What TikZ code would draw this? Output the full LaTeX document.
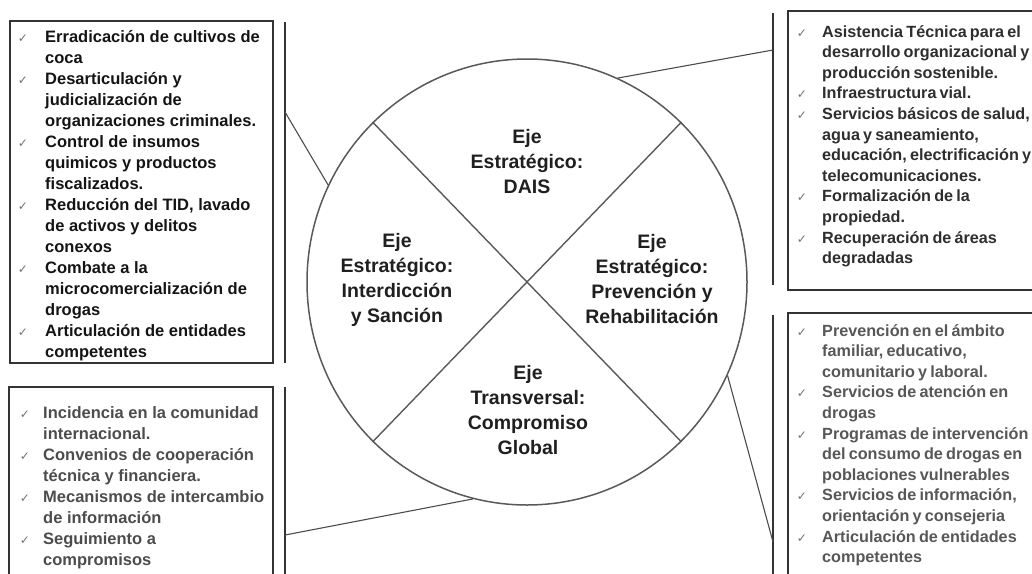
\documentclass[tikz,border=0pt]{standalone}
\usepackage{fontspec}
\setmainfont{Liberation Sans}
\newfontfamily\dejavu{DejaVu Sans}
\usetikzlibrary{shapes.geometric}
\newcommand\rtfont{\fontsize{16.2}{20}\selectfont\bfseries\spaceskip 3.2pt\relax}
\newcommand\boxlines[7]{\foreach \lin [count=\i] in {#7} {\node[#6, text=#5] (#1\i) at (#2, {#3+(\i-1)*#4}) {\lin};}}
\newcommand\boxchecks[5]{\foreach \i in {#5} {\node[ck] (#1c\i) at (#2, {#3+(\i-1)*#4}) {✓};}}
\begin{document}
\begin{tikzpicture}[x=1pt,y=-1pt,
 boxst/.style={draw=black!80, line width=1.6pt, inner sep=0pt, outer sep=0pt, anchor=north west},
 vline/.style={draw=black!80, line width=1.6pt},
 conn/.style={draw=black!70, line width=1.1pt},
 circst/.style={ellipse, draw=black!65, line width=1.5pt, minimum width=440pt, minimum height=446pt, inner sep=0pt},
 cross/.style={draw=black!65, line width=1.4pt},
 ctext/.style={font=\fontsize{19.5}{25}\selectfont\bfseries, align=center, text=black!88, inner sep=0pt},
 itx/.style={font=\fontsize{16.5}{20}\selectfont\bfseries, inner sep=0pt, anchor=base west},
 itxr/.style={font=\rtfont, inner sep=0pt, anchor=base west},
 ck/.style={font=\dejavu\fontsize{12}{12}\selectfont, text=black!55, inner sep=0pt, anchor=base}]
\useasboundingbox (0,0) rectangle (1032,573);
\clip (0,0) rectangle (1032,573);

% circle and cross
\node[circst] (C) at (527,282) {};
\draw[cross] (C.134) -- (C.-46);
\draw[cross] (C.46) -- (C.-134);
\node[ctext] (dais) at (527,162) {Eje\\Estratégico:\\DAIS};
\node[ctext] (inter) at (397,280) {Eje\\Estratégico:\\Interdicción\\y Sanción};
\node[ctext] (prev) at (652,279) {Eje\\Estratégico:\\Prevención y\\Rehabilitación};
\node[ctext] (glob) at (528,410) {Eje\\Transversal:\\Compromiso\\Global};

% boxes
\node[boxst, minimum width=263pt, minimum height=342pt] (bTL) at (10,21) {};
\node[boxst, minimum width=264pt, minimum height=260pt] (bBL) at (9,387) {};
\node[boxst, minimum width=270pt, minimum height=279pt] (bTR) at (788,11) {};
\node[boxst, minimum width=270pt, minimum height=300pt] (bBR) at (788,313) {};

% bracket lines
\coordinate (vTLa) at (285,22);  \coordinate (vTLb) at (285,363);
\coordinate (vBLa) at (285,387); \coordinate (vBLb) at (285,590);
\coordinate (vTRa) at (773,13);  \coordinate (vTRb) at (773,285);
\coordinate (vBRa) at (773,315); \coordinate (vBRb) at (773,590);
\draw[vline] (vTLa) -- (vTLb);
\draw[vline] (vBLa) -- (vBLb);
\draw[vline] (vTRa) -- (vTRb);
\draw[vline] (vBRa) -- (vBRb);

% connectors
\coordinate (kTL) at (285,112);
\coordinate (kBL) at (285,535);
\coordinate (kTR) at (773,50);
\coordinate (kBR) at (773,542);
\draw[conn] (kTL) -- (C.154);
\draw[conn] (kBL) -- (C.-104.5);
\draw[conn] (kTR) -- (C.66);
\draw[conn] (kBR) -- (C.-25.4);

% top-left list
\boxlines{tl}{45}{42}{21}{black!92}{itx}{{Erradicación de cultivos de},{coca},{Desarticulación y},{judicialización de},{organizaciones criminales.},{Control de insumos},{quimicos y productos},{fiscalizados.},{Reducción del TID, lavado},{de activos y delitos},{conexos},{Combate a la},{microcomercialización de},{drogas},{Articulación de entidades},{competentes}}
\boxchecks{tl}{23}{42}{21}{1,3,6,9,12,15}

% bottom-left list
\boxlines{bl}{43}{418}{21}{black!70}{itx}{{Incidencia en la comunidad},{internacional.},{Convenios de cooperación},{técnica y financiera.},{Mecanismos de intercambio},{de información},{Seguimiento a},{compromisos}}
\boxchecks{bl}{25}{418}{21}{1,3,5,7}

% top-right list
\boxlines{tr}{822}{37}{20.6}{black!82}{itxr}{{Asistencia Técnica para el},{desarrollo organizacional y},{producción sostenible.},{Infraestructura vial.},{Servicios básicos de salud,},{agua y saneamiento,},{educación, electrificación y},{telecomunicaciones.},{Formalización de la},{propiedad.},{Recuperación de áreas},{degradadas}}
\boxchecks{tr}{802}{37}{20.6}{1,4,5,9,11}

% bottom-right list
\boxlines{br}{822}{336}{20.6}{black!66}{itxr}{{Prevención en el ámbito},{familiar, educativo,},{comunitario y laboral.},{Servicios de atención en},{drogas},{Programas de intervención},{del consumo de drogas en},{poblaciones vulnerables},{Servicios de información,},{orientación y consejeria},{Articulación de entidades},{competentes}}
\boxchecks{br}{802}{336}{20.6}{1,4,6,9,11}
\end{tikzpicture}
\end{document}
